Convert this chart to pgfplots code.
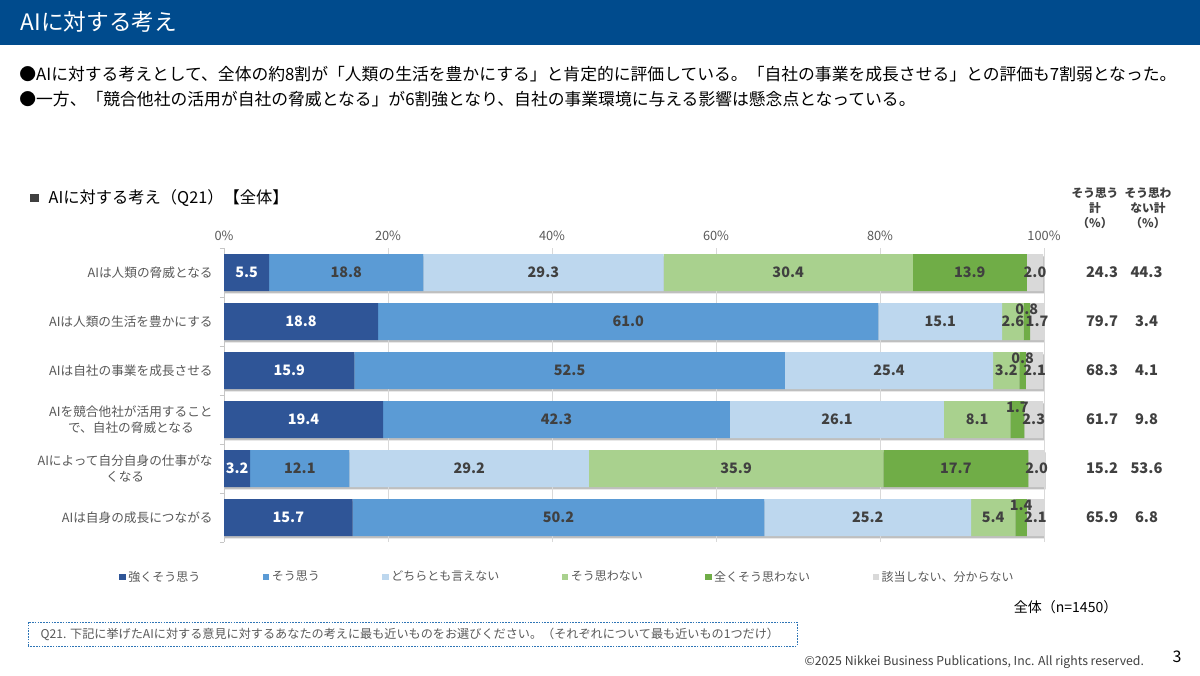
\documentclass[border=0pt]{standalone}
\usepackage{fontspec}
\setmainfont{Noto Sans CJK JP}
\usepackage{pgfplots}
\usepackage{pgfplotstable}
\pgfplotsset{compat=1.18}

\definecolor{c1}{RGB}{47,85,151}
\definecolor{c2}{RGB}{91,155,213}
\definecolor{c3}{RGB}{189,215,238}
\definecolor{c4}{RGB}{169,209,142}
\definecolor{c5}{RGB}{112,173,71}
\definecolor{c6}{RGB}{217,217,217}
\definecolor{band}{RGB}{0,75,141}
\definecolor{txt}{RGB}{64,64,64}
\definecolor{lbl}{RGB}{89,89,89}
\definecolor{boxc}{RGB}{46,117,182}

% 1 px of the reference = 0.75pt
\pgfplotstableread{
row s1   s2   s3   s4   s5   s6  d5
0   5.5  18.8 29.3 30.4 13.9 2.0 0
1   18.8 61.0 15.1 2.6  0.8  1.7 0.25
2   15.9 52.5 25.4 3.2  0.8  2.1 0.25
3   19.4 42.3 26.1 8.1  1.7  2.3 0.25
4   3.2  12.1 29.2 35.9 17.7 2.0 0
5   15.7 50.2 25.2 5.4  1.4  2.1 0.25
}\datatable

\pgfplotsset{
  frame/.style={
    at={(168pt,99.75pt)}, anchor=south west,
    scale only axis, width=615pt, height=220.5pt,
    xmin=0, xmax=100, ymin=-0.5, ymax=5.5, y dir=reverse, clip=false,
  },
  sq/.style={legend image code/.code={\fill[#1] (0pt,-2.4pt) rectangle (4.8pt,2.4pt);}},
}

\begin{document}
\begin{tikzpicture}
\path[use as bounding box, fill=white] (0,0) rectangle (900pt,506.25pt);

% header band
\fill[band] (0,472.5pt) rectangle (900pt,506.25pt);
\node[anchor=west, text=white, font=\fontsize{17}{20}\selectfont] at (12pt,489.75pt) {AIに対する考え};

\node[anchor=west, font=\fontsize{12.6}{15}\selectfont] at (11pt,450.75pt)
  {●AIに対する考えとして、全体の約8割が「人類の生活を豊かにする」と肯定的に評価している。「自社の事業を成長させる」との評価も7割弱となった。};
\node[anchor=west, font=\fontsize{12.6}{15}\selectfont] at (11pt,432pt)
  {●一方、「競合他社の活用が自社の脅威となる」が6割強となり、自社の事業環境に与える影響は懸念点となっている。};

% chart subtitle
\fill[txt] (22.5pt,354.5pt) rectangle (29pt,361pt);
\node[anchor=west, font=\fontsize{12.2}{14}\selectfont, text=black] at (33pt,357.75pt) {AIに対する考え（Q21）【全体】};

% bar shadows
\begin{axis}[frame, at={(168.6pt,97.95pt)}, hide axis, xbar, bar width=27.75pt]
\addplot[fill=black!25, draw=none]
  table[x expr=\thisrow{s1}+\thisrow{s2}+\thisrow{s3}+\thisrow{s4}+\thisrow{s5}+\thisrow{s6}, y=row] {\datatable};
\end{axis}

\begin{axis}[
  frame,
  xbar stacked, bar width=27.75pt,
  axis x line*=top, axis y line*=left,
  x axis line style={draw=none}, y axis line style={draw=gray!45},
  major tick length=0pt, minor tick length=3pt, tick align=outside,
  xtick={0,20,...,100},
  xticklabel={\pgfmathprintnumber{\tick}\%},
  xticklabel style={font=\fontsize{9.6}{11}\selectfont, text=lbl, yshift=2pt},
  xmajorgrids, major x grid style={draw=gray!30, line width=0.6pt},
  ytick={0,...,5},
  minor ytick={-0.5,0.5,...,5.5},
  every minor tick/.append style={draw=gray!45},
  yticklabels={AIは人類の脅威となる, AIは人類の生活を豊かにする, AIは自社の事業を成長させる,
    {AIを競合他社が活用すること\\で、自社の脅威となる}, {AIによって自分自身の仕事がな\\くなる},
    AIは自身の成長につながる},
  yticklabel style={align=center, font=\fontsize{9.5}{11.5}\selectfont, text=lbl, xshift=-5pt},
  /pgf/number format/assume math mode=true,
  legend columns=6,
  legend style={at={(-0.128,-0.119)}, anchor=west, draw=none, fill=none, inner sep=0pt,
    font=\fontsize{9}{11}\selectfont, text=lbl,
    /tikz/every even column/.append style={column sep=44.8pt}},
  legend cell align=left,
]
\addplot[fill=c1, draw=none, sq=c1] table[x=s1, y=row] {\datatable};
\addplot[fill=c2, draw=none, sq=c2] table[x=s2, y=row] {\datatable};
\addplot[fill=c3, draw=none, sq=c3] table[x=s3, y=row] {\datatable};
\addplot[fill=c4, draw=none, sq=c4] table[x=s4, y=row] {\datatable};
\addplot[fill=c5, draw=none, sq=c5] table[x=s5, y=row] {\datatable};
\addplot[fill=c6, draw=none, sq=c6] table[x=s6, y=row] {\datatable};
\legend{強くそう思う, そう思う, どちらとも言えない, そう思わない, 全くそう思わない, 該当しない、分からない}
\end{axis}

% value labels, centred in each segment
\begin{axis}[
  frame, hide axis,
  /pgf/number format/assume math mode=true,
  point meta=explicit,
  nodes near coords={\pgfmathprintnumber[fixed,fixed zerofill,precision=1]{\pgfplotspointmeta}},
  every node near coord/.append style={anchor=center, inner sep=0pt,
    font=\fontsize{10.8}{12}\selectfont\bfseries, text=txt},
]
\addplot[draw=none, mark=none, every node near coord/.append style={text=white}]
  table[x expr=\thisrow{s1}/2, y=row, meta=s1] {\datatable};
\addplot[draw=none, mark=none]
  table[x expr=\thisrow{s1}+\thisrow{s2}/2, y=row, meta=s2] {\datatable};
\addplot[draw=none, mark=none]
  table[x expr=\thisrow{s1}+\thisrow{s2}+\thisrow{s3}/2, y=row, meta=s3] {\datatable};
\addplot[draw=none, mark=none]
  table[x expr=\thisrow{s1}+\thisrow{s2}+\thisrow{s3}+\thisrow{s4}/2, y=row, meta=s4] {\datatable};
\addplot[draw=none, mark=none]
  table[x expr=\thisrow{s1}+\thisrow{s2}+\thisrow{s3}+\thisrow{s4}+\thisrow{s5}/2,
        y expr=\thisrow{row}-\thisrow{d5}, meta=s5] {\datatable};
\addplot[draw=none, mark=none]
  table[x expr=\thisrow{s1}+\thisrow{s2}+\thisrow{s3}+\thisrow{s4}+\thisrow{s5}+\thisrow{s6}/2, y=row, meta=s6] {\datatable};

% totals columns
\begin{scope}[every node/.style={font=\fontsize{11}{12}\selectfont\bfseries, text=txt}]
\node at (axis cs:107.07,0) {24.3}; \node at (axis cs:112.5,0) {44.3};
\node at (axis cs:107.07,1) {79.7}; \node at (axis cs:112.5,1) {3.4};
\node at (axis cs:107.07,2) {68.3}; \node at (axis cs:112.5,2) {4.1};
\node at (axis cs:107.07,3) {61.7}; \node at (axis cs:112.5,3) {9.8};
\node at (axis cs:107.07,4) {15.2}; \node at (axis cs:112.5,4) {53.6};
\node at (axis cs:107.07,5) {65.9}; \node at (axis cs:112.5,5) {6.8};
\end{scope}
\end{axis}

\node[align=center, font=\fontsize{8.8}{11.4}\selectfont\bfseries, text=txt] at (821.25pt,350.25pt) {そう思う\\計\\（\%）};
\node[align=center, font=\fontsize{8.8}{11.4}\selectfont\bfseries, text=txt] at (861pt,350.25pt) {そう思わ\\ない計\\（\%）};

\node[anchor=east, font=\fontsize{10.5}{12}\selectfont] at (841.5pt,51pt) {全体（n=1450）};

\draw[boxc, line width=0.6pt, dash pattern=on 1.2pt off 0.9pt] (21pt,21.75pt) rectangle (597.75pt,39.75pt);
\node[anchor=west, font=\fontsize{9.1}{10}\selectfont, text=lbl] at (27pt,30.75pt)
  {Q21. 下記に挙げたAIに対する意見に対するあなたの考えに最も近いものをお選びください。（それぞれについて最も近いもの1つだけ）};

\node[anchor=east, font=\fontsize{9.2}{10}\selectfont, text=txt] at (861.5pt,9.75pt) {©2025 Nikkei Business Publications, Inc. All rights reserved.};
\node[font=\fontsize{12}{14}\selectfont, text=black] at (882.75pt,13.5pt) {3};
\end{tikzpicture}
\end{document}
